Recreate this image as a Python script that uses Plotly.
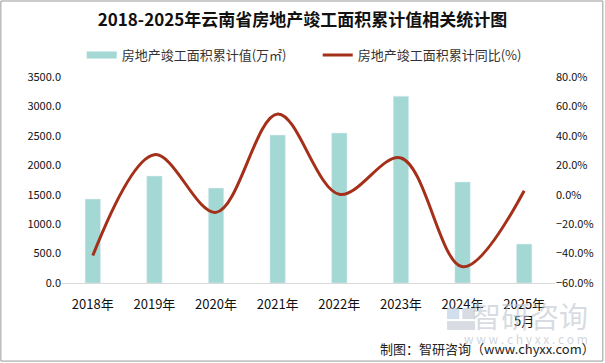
import plotly.graph_objects as go

categories = ["2018年", "2019年", "2020年", "2021年", "2022年", "2023年", "2024年", "2025年<br>5月"]
area_values = [1426, 1817, 1613, 2513, 2547, 3175, 1715, 662]
yoy_values = [-41.3, 27.2, -12.0, 54.9, 0.3, 25.0, -49.0, 2.7]

bar_name = "房地产竣工面积累计值(万㎡)"
line_name = "房地产竣工面积累计同比(%)"
bar_color = "#A3D8D5"
line_color = "#A5301A"
font_family = "Noto Sans CJK SC"

fig = go.Figure()
fig.add_trace(go.Bar(x=categories, y=area_values, marker_color=bar_color, width=0.25,
                     name=bar_name, showlegend=False, yaxis="y"))
fig.add_trace(go.Scatter(x=[None], y=[None], mode="lines", name=bar_name,
                         line=dict(color=bar_color, width=7), yaxis="y"))
fig.add_trace(go.Scatter(x=categories, y=yoy_values, mode="lines", name=line_name,
                         line=dict(color=line_color, width=3, shape="spline", smoothing=1.0),
                         yaxis="y2"))

fig.update_layout(
    width=605, height=363,
    margin=dict(l=62, r=50, t=77, b=80),
    paper_bgcolor="white", plot_bgcolor="white",
    font=dict(family=font_family, size=11, color="#222"),
    title=dict(text="<b>2018-2025年云南省房地产竣工面积累计值相关统计图</b>",
               x=0.5, xanchor="center", y=0.945, yanchor="middle",
               font=dict(size=17, color="#111", family=font_family)),
    legend=dict(orientation="h", x=0.04, xanchor="left", y=1.107, yanchor="middle",
                font=dict(size=13, color="#333"), itemwidth=30, entrywidth=191,
                tracegroupgap=0, bgcolor="rgba(0,0,0,0)"),
    xaxis=dict(showgrid=False, showline=True, linecolor="#d9d9d9", linewidth=1,
               ticks="", ticklabelstandoff=9, tickfont=dict(size=13, color="#111")),
    yaxis=dict(range=[0, 3500], dtick=500, tickformat=".1f", showgrid=False,
               zeroline=False, showline=False, ticks="",
               tickfont=dict(size=11, color="#111")),
    yaxis2=dict(range=[-60, 80], dtick=20, tickformat=".1f", ticksuffix="%",
                overlaying="y", side="right", showgrid=False, zeroline=False,
                showline=False, ticks="", tickfont=dict(size=11, color="#111")),
    bargap=0.5,
)

# watermark logo
fig.add_shape(type="rect", xref="paper", yref="paper", x0=0.781, x1=0.806, y0=-0.175, y1=-0.121,
              line=dict(width=0), fillcolor="rgba(180,200,225,0.6)")
fig.add_shape(type="rect", xref="paper", yref="paper", x0=0.812, x1=0.838, y0=-0.175, y1=-0.121,
              line=dict(width=0), fillcolor="rgba(190,196,206,0.6)")
fig.add_shape(type="rect", xref="paper", yref="paper", x0=0.781, x1=0.838, y0=-0.228, y1=-0.185,
              line=dict(width=0), fillcolor="rgba(190,196,206,0.6)")
fig.add_annotation(xref="paper", yref="paper", x=1.071, y=-0.155, xanchor="right", yanchor="middle",
                   text="智研咨询", showarrow=False,
                   font=dict(size=29, color="rgba(190,196,206,0.6)", family=font_family))
fig.add_annotation(xref="paper", yref="paper", x=1.071, y=-0.267, xanchor="right", yanchor="middle",
                   text="w w w . c h y x x . c o m", showarrow=False,
                   font=dict(size=12, color="rgba(190,196,206,0.7)", family=font_family))
# credit
fig.add_annotation(xref="paper", yref="paper", x=1.085, y=-0.32, xanchor="right", yanchor="middle",
                   text="制图：智研咨询（www.chyxx.com）", showarrow=False,
                   font=dict(size=13, color="#222", family=font_family))
# border
fig.add_shape(type="rect", xref="paper", yref="paper", x0=-0.124, x1=1.097, y0=-0.379, y1=1.369,
              line=dict(color="#999", width=1))

fig.write_html("out.html", config={"displayModeBar": False},
               post_script="document.body.style.margin='0';")
